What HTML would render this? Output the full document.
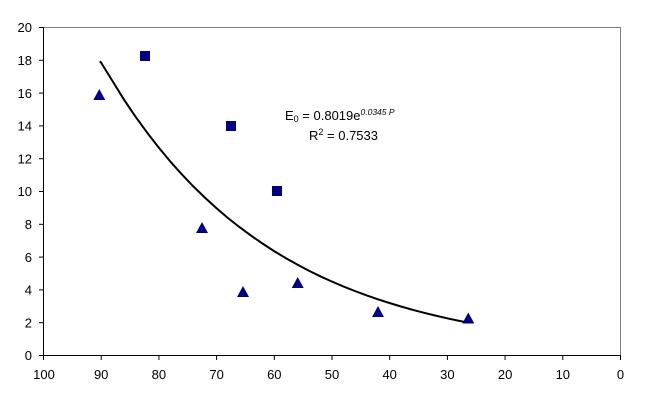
<!DOCTYPE html>
<html><head><meta charset="utf-8"><style>
html,body{margin:0;padding:0;background:#fff;}
svg{display:block;font-family:"Liberation Sans",Arial,sans-serif;}
</style></head><body>
<svg width="648" height="403" viewBox="0 0 648 403" xmlns="http://www.w3.org/2000/svg">
<rect width="648" height="403" fill="#fff"/>
<!-- plot border -->
<polyline points="43.5,27.5 620.5,27.5 620.5,355.5" fill="none" stroke="#808080" stroke-width="1"/>
<!-- axes -->
<line x1="43.5" y1="27" x2="43.5" y2="356" stroke="#000" stroke-width="1"/>
<line x1="43" y1="355.5" x2="621" y2="355.5" stroke="#000" stroke-width="1"/>
<!-- y ticks -->
<g stroke="#000" stroke-width="1">
<line x1="39" y1="27.5" x2="43" y2="27.5"/>
<line x1="39" y1="60.3" x2="43" y2="60.3"/>
<line x1="39" y1="93.1" x2="43" y2="93.1"/>
<line x1="39" y1="125.9" x2="43" y2="125.9"/>
<line x1="39" y1="158.7" x2="43" y2="158.7"/>
<line x1="39" y1="191.5" x2="43" y2="191.5"/>
<line x1="39" y1="224.3" x2="43" y2="224.3"/>
<line x1="39" y1="257.1" x2="43" y2="257.1"/>
<line x1="39" y1="289.9" x2="43" y2="289.9"/>
<line x1="39" y1="322.7" x2="43" y2="322.7"/>
<line x1="39" y1="355.5" x2="43" y2="355.5"/>
</g>
<!-- x ticks -->
<g stroke="#000" stroke-width="1">
<line x1="43.5" y1="355" x2="43.5" y2="360"/>
<line x1="101.2" y1="355" x2="101.2" y2="360"/>
<line x1="158.9" y1="355" x2="158.9" y2="360"/>
<line x1="216.6" y1="355" x2="216.6" y2="360"/>
<line x1="274.3" y1="355" x2="274.3" y2="360"/>
<line x1="332" y1="355" x2="332" y2="360"/>
<line x1="389.7" y1="355" x2="389.7" y2="360"/>
<line x1="447.4" y1="355" x2="447.4" y2="360"/>
<line x1="505.1" y1="355" x2="505.1" y2="360"/>
<line x1="562.8" y1="355" x2="562.8" y2="360"/>
<line x1="620.5" y1="355" x2="620.5" y2="360"/>
</g>
<!-- y labels -->
<g font-size="13" text-anchor="end" fill="#000">
<text x="32" y="32">20</text>
<text x="32" y="65">18</text>
<text x="32" y="98">16</text>
<text x="32" y="130.5">14</text>
<text x="32" y="163.5">12</text>
<text x="32" y="196">10</text>
<text x="32" y="229">8</text>
<text x="32" y="262">6</text>
<text x="32" y="294.5">4</text>
<text x="32" y="327.5">2</text>
<text x="32" y="360">0</text>
</g>
<!-- x labels -->
<g font-size="13" text-anchor="middle" fill="#000">
<text x="44" y="379">100</text>
<text x="101.2" y="379">90</text>
<text x="158.9" y="379">80</text>
<text x="216.6" y="379">70</text>
<text x="274.3" y="379">60</text>
<text x="332" y="379">50</text>
<text x="389.7" y="379">40</text>
<text x="447.4" y="379">30</text>
<text x="505.1" y="379">20</text>
<text x="562.8" y="379">10</text>
<text x="620.5" y="379">0</text>
</g>
<!-- trend curve -->
<polyline fill="none" stroke="#000" stroke-width="2" stroke-linejoin="round" points="99.8,61.3 101,62.5 112.5,81 124.1,99.8 135.6,116.8 147.2,132.7 158.7,147.5 170.2,161.4 181.8,174.3 193.3,186.4 204.9,197.6 216.4,208.1 227.9,218 239.5,227.1 251,235.6 262.6,243.6 274.1,251.1 285.6,258 297.2,264.5 308.7,270.6 320.3,276.3 331.8,281.5 343.3,286.4 354.9,291 366.4,295.3 377.9,299.3 389.5,303 401,306.5 412.6,309.8 424.1,312.8 435.6,315.6 447.2,318.3 458,320.6 468.5,322.7"/>
<!-- squares -->
<g fill="#000080">
<rect x="140" y="51" width="10" height="10"/>
<rect x="226" y="121" width="10" height="10"/>
<rect x="272" y="186" width="10" height="10"/>
</g>
<!-- triangles -->
<g fill="#000080">
<polygon points="99.3,89 105.3,100 93.3,100"/>
<polygon points="202,222 208,233 196,233"/>
<polygon points="243,286 249,297 237,297"/>
<polygon points="297.7,277 303.7,288 291.7,288"/>
<polygon points="378,306 384,317 372,317"/>
<polygon points="468.3,312.5 474.3,323.5 462.3,323.5"/>
</g>
<!-- equation -->
<text x="285" y="120" font-size="13" fill="#000">E<tspan font-size="9" dy="2">0</tspan><tspan dy="-2"> = 0.8019e</tspan><tspan font-size="8.5" dy="-5" font-style="italic">0.0345 P</tspan></text>
<text x="309" y="140" font-size="13" fill="#000">R<tspan font-size="9" dy="-5">2</tspan><tspan dy="5"> = 0.7533</tspan></text>
</svg>
</body></html>
